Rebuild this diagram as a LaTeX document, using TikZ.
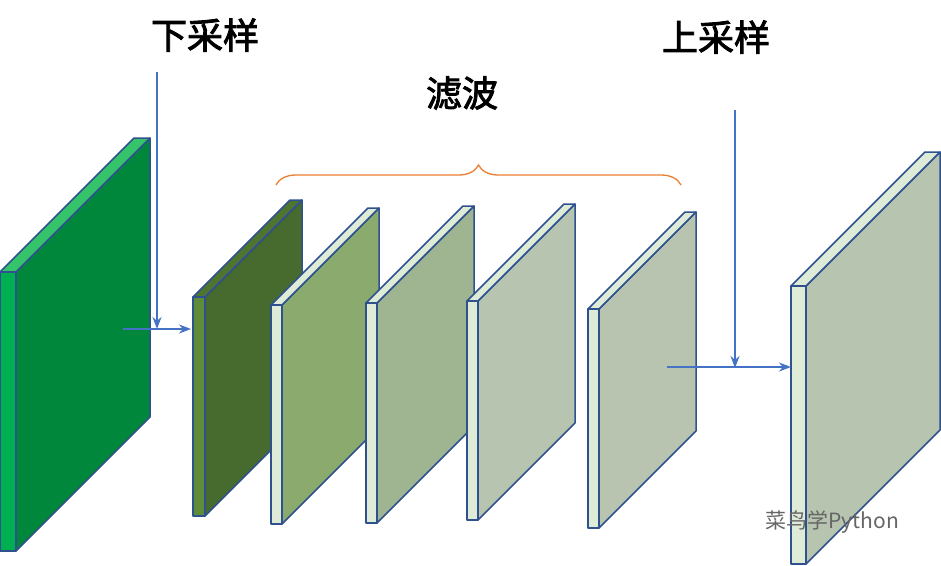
\documentclass[tikz,border=0pt]{standalone}
\usepackage{fontspec}
\newfontfamily\cjk[AutoFakeBold=2.5]{Noto Sans CJK SC}
\usepackage{tikz}
\usetikzlibrary{arrows.meta,decorations.pathreplacing}
\definecolor{edgeblue}{HTML}{2F528F}
\definecolor{arrblue}{HTML}{4472C4}
\definecolor{bracecol}{HTML}{ED7D31}
\tikzset{
  slabline/.style={draw=edgeblue, line width=1.5pt, line join=round},
  flow/.style={arrblue, line width=2.2pt, -{Stealth[length=12pt,width=9pt]}},
  title/.style={font=\cjk\fontsize{36}{42}\selectfont\bfseries}
}
\begin{document}
\begin{tikzpicture}[x=1pt, y=-1pt]
        \useasboundingbox (0,0) rectangle (941,565);
        % slabs: x, front width, top y, height, depth, front, side, top
        \foreach \x/\w/\y/\h/\d/\fc/\sc/\tc in {
            0/16/272/279/134/00B050/00873C/35C46A,
            193/12/297/219/97/5E8C3A/476A2E/4E7432,
            271/11/305/219/97/DDEBD7/8AAA6E/DDEBD7,
            366/11/303/220/97/DDEBD7/9FB592/DDEBD7,
            467/11/301/219/97/DDEBD7/B7C4B0/DDEBD7,
            588/11/309/219/97/DDEBD7/B8C4B0/DDEBD7,
            791/15/286/278/134/DDEBD7/B7C4B0/DDEBD7}{
            \definecolor{fc}{HTML}{\fc}
            \definecolor{sc}{HTML}{\sc}
            \definecolor{tc}{HTML}{\tc}
            \draw[slabline, fill=sc] (\x+\w,\y) -- ++(\d,-\d) -- ++(0,\h) -- (\x+\w,\y+\h) -- cycle;
            \draw[slabline, fill=tc] (\x,\y) -- ++(\d,-\d) -- ++(\w,0) -- (\x+\w,\y) -- cycle;
            \draw[slabline, fill=fc] (\x,\y) rectangle ++(\w,\h);
        }
        \node[title] (down) at (205,35) {下采样};
        \node[title] (filt) at (462,93) {滤波};
        \node[title] (up) at (716,37) {上采样};
        \coordinate (dtop) at (157,72);
        \coordinate (dend) at (157,329);
        \coordinate (hin) at (123,329);
        \coordinate (hout) at (191,329);
        \coordinate (utop) at (735,110);
        \coordinate (uend) at (735,368);
        \coordinate (uin) at (667,367);
        \coordinate (uout) at (791,367);
        \draw[flow] (dtop) -- (dend);
        \draw[flow] (hin) -- (hout);
        \draw[flow] (utop) -- (uend);
        \draw[flow] (uin) -- (uout);
        \draw[bracecol, line width=1.3pt, decorate, decoration={brace, amplitude=20pt}] (276,185) -- (681,185);
        \node[gray!80!black, font=\cjk\fontsize{21}{24}\selectfont, anchor=west] (mark) at (762,522) {菜鸟学Python};
    \end{tikzpicture}
\end{document}
